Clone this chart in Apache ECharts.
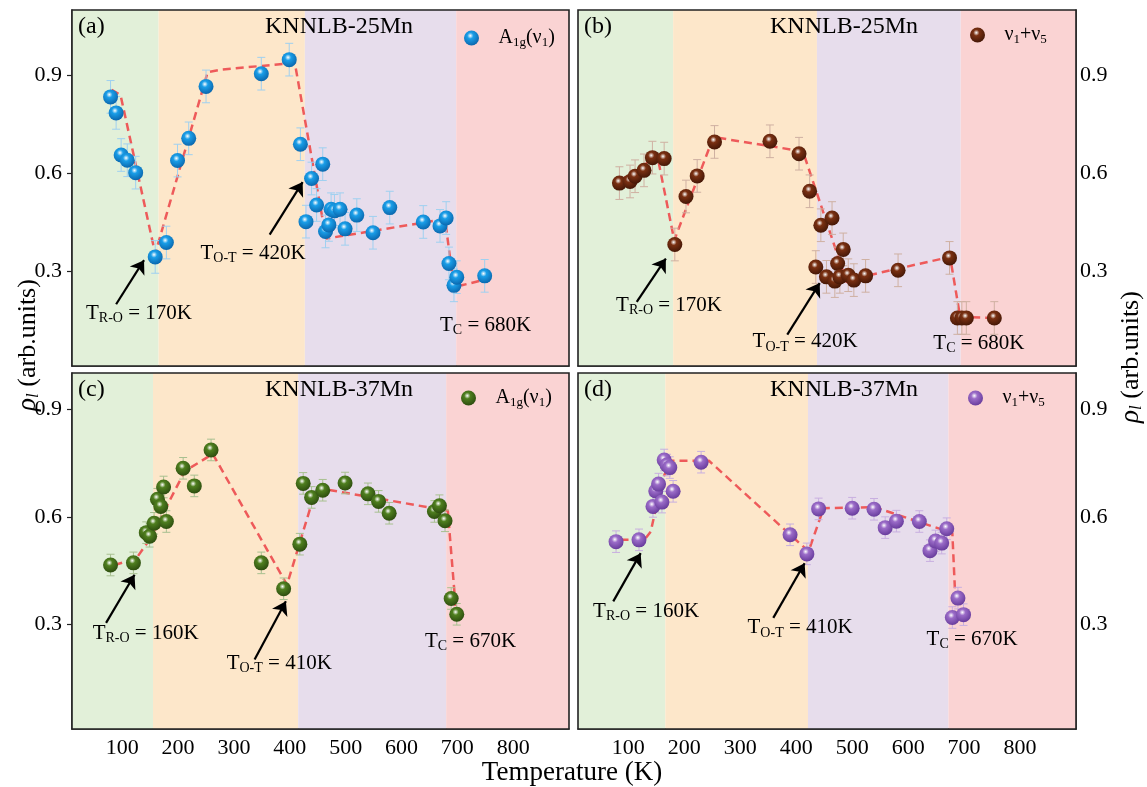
<!DOCTYPE html>
<html>
<head>
<meta charset="utf-8">
<script src="https://cdn.jsdelivr.net/npm/echarts@6.0.0/dist/echarts.min.js"></script>
<style>
html, body { margin: 0; padding: 0; background: #fff; }
#chart { width: 1147px; height: 787px; }
</style>
</head>
<body>
<div id="chart"></div>
<script>
// tick labels
var xTicks = [100, 200, 300, 400, 500, 600, 700, 800];
var yTicks = [0.3, 0.6, 0.9];

// (a) KNNLB-25Mn, A1g(v1)
var aTemp = [79, 89, 98, 109, 124, 159, 179, 199, 219, 250, 349, 399, 419, 429, 439, 448, 459, 464, 470, 474, 480, 490, 499, 520, 549, 579, 639, 669, 680, 685, 694, 699, 749];
var aRho = [0.834, 0.785, 0.656, 0.640, 0.602, 0.344, 0.388, 0.639, 0.707, 0.866, 0.905, 0.948, 0.689, 0.452, 0.584, 0.503, 0.628, 0.422, 0.442, 0.490, 0.485, 0.490, 0.430, 0.472, 0.418, 0.495, 0.451, 0.439, 0.463, 0.324, 0.257, 0.282, 0.286];
var aGuideT = [81, 97, 159, 253, 280, 409, 465, 678, 693, 708, 748];
var aGuideRho = [0.856, 0.839, 0.354, 0.91, 0.918, 0.938, 0.400, 0.46, 0.262, 0.257, 0.274];
var aBands = [10, 165, 427, 698, 900];

// (b) KNNLB-25Mn, v1+v5
var bTemp = [84, 103, 112, 128, 143, 164, 183, 203, 223, 254, 353, 405, 424, 435, 444, 454, 464, 469, 474, 478, 484, 493, 503, 524, 582, 674, 688, 696, 704, 754];
var bRho = [0.570, 0.575, 0.591, 0.609, 0.648, 0.645, 0.382, 0.529, 0.592, 0.696, 0.698, 0.660, 0.545, 0.313, 0.441, 0.283, 0.463, 0.270, 0.324, 0.283, 0.367, 0.288, 0.273, 0.286, 0.303, 0.341, 0.157, 0.157, 0.157, 0.157];
var bGuideT = [83, 152, 182, 252, 412, 490, 530, 675, 693, 755];
var bGuideRho = [0.575, 0.652, 0.395, 0.711, 0.667, 0.267, 0.288, 0.344, 0.16, 0.157];
var bBands = [10, 180, 437, 694, 900];

// (c) KNNLB-37Mn, A1g(v1)
var cTemp = [79, 120, 143, 149, 157, 163, 169, 174, 179, 209, 229, 259, 349, 389, 418, 424, 439, 459, 499, 540, 559, 578, 659, 668, 678, 689, 699];
var cRho = [0.466, 0.472, 0.556, 0.546, 0.582, 0.649, 0.629, 0.683, 0.587, 0.735, 0.686, 0.786, 0.472, 0.400, 0.524, 0.693, 0.654, 0.674, 0.694, 0.664, 0.643, 0.610, 0.615, 0.631, 0.589, 0.373, 0.329];
var cGuideT = [86, 125, 149, 212, 262, 395, 444, 470, 683, 698];
var cGuideRho = [0.466, 0.484, 0.537, 0.727, 0.775, 0.411, 0.662, 0.675, 0.617, 0.33];
var cBands = [10, 155, 415, 680, 900];

// (d) KNNLB-37Mn, v1+v5
var dTemp = [78, 119, 144, 149, 154, 160, 164, 169, 174, 180, 230, 389, 419, 440, 500, 539, 559, 579, 620, 639, 649, 660, 669, 679, 689, 699];
var dRho = [0.531, 0.536, 0.629, 0.672, 0.691, 0.641, 0.758, 0.744, 0.737, 0.671, 0.752, 0.550, 0.497, 0.622, 0.624, 0.621, 0.570, 0.588, 0.587, 0.506, 0.533, 0.527, 0.567, 0.320, 0.374, 0.328];
var dGuideT = [86, 129, 140, 160, 175, 244, 422, 449, 540, 679, 685];
var dGuideRho = [0.536, 0.537, 0.559, 0.70, 0.756, 0.756, 0.504, 0.624, 0.627, 0.555, 0.351];
var dBands = [10, 166, 421, 672, 900];

var FONT = '"Liberation Serif", "Times New Roman", serif';
var bandColors = ['#e2f0d9', '#fde7ca', '#e7ddec', '#fad3d3'];

var txtRich = {
  n: { fontFamily: FONT, fontSize: 21, color: '#000' },
  s: { fontFamily: FONT, fontSize: 14, color: '#000', padding: [10, 0, 0, 0] }
};

var panels = [
  { tag: '(a)', title: 'KNNLB-25Mn', name: 'a', T: aTemp, rho: aRho, gT: aGuideT, gR: aGuideRho, bands: aBands,
    err: 0.05, base: '#1a9ee8', dark: '#0a64aa', errColor: '#9fd0f0',
    legend: '{n|A}{s|1g}{n|(ν}{s|1}{n|)}', legendPos: [459, 23],
    grid: { left: 72, top: 10, width: 497, height: 356 }, yMax: 1.1, right: false, showX: false,
    notes: [[35, 0.17, '{n|T}{s|R-O}{n| = 170K}'], [240, 0.354, '{n|T}{s|O-T}{n| = 420K}'], [669, 0.135, '{n|T}{s|C}{n| = 680K}']],
    arrows: [[89, 0.199, 139, 0.334], [364, 0.412, 423, 0.573]] },
  { tag: '(b)', title: 'KNNLB-25Mn', name: 'b', T: bTemp, rho: bRho, gT: bGuideT, gR: bGuideRho, bands: bBands,
    err: 0.05, base: '#7a3012', dark: '#421606', errColor: '#cfb0a2',
    legend: '{n|ν}{s|1}{n|+ν}{s|5}', legendPos: [965, 20],
    grid: { left: 578, top: 10, width: 498, height: 356 }, yMax: 1.1, right: true, showX: false,
    notes: [[78, 0.196, '{n|T}{s|R-O}{n| = 170K}'], [322, 0.084, '{n|T}{s|O-T}{n| = 420K}'], [645, 0.079, '{n|T}{s|C}{n| = 680K}']],
    arrows: [[115, 0.206, 167, 0.339], [384, 0.106, 442, 0.264]] },
  { tag: '(c)', title: 'KNNLB-37Mn', name: 'c', T: cTemp, rho: cRho, gT: cGuideT, gR: cGuideRho, bands: cBands,
    err: 0.03, base: '#4f7f1f', dark: '#2b4a0e', errColor: '#a8c090',
    legend: '{n|A}{s|1g}{n|(ν}{s|1}{n|)}', legendPos: [456, 383],
    grid: { left: 72, top: 373, width: 497, height: 356 }, yMax: 1.0, right: false, showX: true,
    notes: [[47, 0.277, '{n|T}{s|R-O}{n| = 160K}'], [287, 0.193, '{n|T}{s|O-T}{n| = 410K}'], [642, 0.254, '{n|T}{s|C}{n| = 670K}']],
    arrows: [[71, 0.305, 122, 0.439], [337, 0.203, 393, 0.365]] },
  { tag: '(d)', title: 'KNNLB-37Mn', name: 'd', T: dTemp, rho: dRho, gT: dGuideT, gR: dGuideRho, bands: dBands,
    err: 0.03, base: '#9b6cc8', dark: '#65399a', errColor: '#c8afe0',
    legend: '{n|ν}{s|1}{n|+ν}{s|5}', legendPos: [963, 383],
    grid: { left: 578, top: 373, width: 498, height: 356 }, yMax: 1.0, right: true, showX: true,
    notes: [[37, 0.337, '{n|T}{s|R-O}{n| = 160K}'], [313, 0.291, '{n|T}{s|O-T}{n| = 410K}'], [633, 0.258, '{n|T}{s|C}{n| = 670K}']],
    arrows: [[73, 0.365, 122, 0.499], [359, 0.319, 415, 0.471]] }
];

var grids = [], xAxes = [], yAxes = [], series = [], legends = [], graphics = [];
var axisColor = '#222';

panels.forEach(function (p, i) {
  grids.push(p.grid);
  xAxes.push({
    gridIndex: i, type: 'value', min: 10, max: 900,
    axisLine: { show: true, lineStyle: { color: axisColor, width: 1.5 } },
    axisTick: { show: true, inside: true, length: 5, customValues: xTicks, lineStyle: { color: axisColor, width: 1.2 } },
    axisLabel: { show: p.showX, customValues: xTicks, margin: 8, fontFamily: FONT, fontSize: 22, color: '#000' },
    splitLine: { show: false }
  });
  yAxes.push({
    gridIndex: i, type: 'value', min: 0.01, max: p.yMax, position: p.right ? 'right' : 'left',
    axisLine: { show: true, lineStyle: { color: axisColor, width: 1.5 } },
    axisTick: { show: true, inside: p.right, length: 5, customValues: yTicks, lineStyle: { color: axisColor, width: 1.2 } },
    axisLabel: { customValues: yTicks, margin: p.right ? 4 : 10, fontFamily: FONT, fontSize: 22, color: '#000',
      formatter: function (v) { return v.toFixed(1); } },
    splitLine: { show: false }
  });

  // coloured phase regions
  var areas = [];
  for (var k = 0; k < 4; k++) {
    areas.push([{ xAxis: p.bands[k], yAxis: 0.01, itemStyle: { color: bandColors[k] } }, { xAxis: p.bands[k + 1], yAxis: p.yMax }]);
  }
  series.push({
    type: 'line', xAxisIndex: i, yAxisIndex: i, data: [], z: 1, silent: true,
    markArea: { silent: true, data: areas }
  });

  // dashed guide
  series.push({
    type: 'line', xAxisIndex: i, yAxisIndex: i, z: 3, silent: true, showSymbol: false,
    data: p.gT.map(function (t, j) { return [t, p.gR[j]]; }),
    lineStyle: { color: '#ee5a5a', width: 2.5, type: [8, 5] }
  });

  // error bars
  series.push({
    type: 'custom', xAxisIndex: i, yAxisIndex: i, z: 4, silent: true,
    data: p.T.map(function (t, j) { return [t, p.rho[j], p.err]; }),
    renderItem: function (params, api) {
      var t = api.value(0), v = api.value(1), e = api.value(2);
      var hi = api.coord([t, v + e]), lo = api.coord([t, v - e]);
      var st = { stroke: p.errColor, lineWidth: 1 };
      return { type: 'group', children: [
        { type: 'line', shape: { x1: hi[0], y1: hi[1], x2: lo[0], y2: lo[1] }, style: st },
        { type: 'line', shape: { x1: hi[0] - 4, y1: hi[1], x2: hi[0] + 4, y2: hi[1] }, style: st },
        { type: 'line', shape: { x1: lo[0] - 4, y1: lo[1], x2: lo[0] + 4, y2: lo[1] }, style: st }
      ] };
    }
  });

  // markers
  var grad = { type: 'radial', x: 0.42, y: 0.35, r: 0.68, colorStops: [
    { offset: 0, color: '#ffffff' }, { offset: 0.3, color: p.base }, { offset: 1, color: p.dark }] };
  series.push({
    name: p.name, type: 'scatter', xAxisIndex: i, yAxisIndex: i, z: 5,
    symbol: 'circle', symbolSize: 15,
    itemStyle: { color: grad, opacity: 1 },
    data: p.T.map(function (t, j) { return [t, p.rho[j]]; })
  });

  // annotations and arrows
  series.push({
    type: 'scatter', xAxisIndex: i, yAxisIndex: i, z: 6, silent: true,
    symbolSize: 0, itemStyle: { color: '#000', opacity: 1 },
    data: p.notes.map(function (n) {
      return { value: [n[0], n[1]], label: { show: true, position: 'right', distance: 0, color: '#000', opacity: 1, formatter: n[2], rich: txtRich } };
    }),
    markLine: {
      silent: true, symbol: ['none', 'arrow'], symbolSize: 13, animation: false,
      label: { show: false },
      lineStyle: { color: '#000', width: 2.2, type: 'solid', opacity: 1 },
      data: p.arrows.map(function (a) { return [{ coord: [a[0], a[1]] }, { coord: [a[2], a[3]] }]; })
    }
  });

  legends.push({
    data: [p.name], left: p.legendPos[0], top: p.legendPos[1], icon: 'circle',
    itemWidth: 44, itemHeight: 15, selectedMode: false,
    formatter: (function (s) { return function () { return s; }; })(p.legend),
    textStyle: { rich: {
      n: { fontFamily: FONT, fontSize: 20, color: '#000' },
      s: { fontFamily: FONT, fontSize: 13, color: '#000', padding: [10, 0, 0, 0] } } }
  });

  var g = p.grid;
  graphics.push({ type: 'rect', silent: true, z: 50, shape: { x: g.left, y: g.top, width: g.width, height: g.height },
    style: { fill: null, stroke: '#222', lineWidth: 1.6 } });
  graphics.push({ type: 'text', silent: true, z: 50, x: g.left + 6, y: g.top + 17,
    style: { text: p.tag, fontFamily: FONT, fontSize: 24, fill: '#000', verticalAlign: 'middle' } });
  graphics.push({ type: 'text', silent: true, z: 50, x: g.left + (i % 2 ? 266 : 267), y: g.top + 17,
    style: { text: p.title, fontFamily: FONT, fontSize: 24, fill: '#000', align: 'center', verticalAlign: 'middle' } });
});

var yTitleRich = {
  r: { fontFamily: FONT, fontSize: 27, fontStyle: 'italic', color: '#000' },
  l: { fontFamily: FONT, fontSize: 17, fontStyle: 'italic', color: '#000', padding: [12, 0, 0, 0] },
  n: { fontFamily: FONT, fontSize: 26, color: '#000' }
};
graphics.push({ type: 'text', silent: true, z: 50, x: 572, y: 773,
  style: { text: 'Temperature (K)', fontFamily: FONT, fontSize: 27, fill: '#000', align: 'center', verticalAlign: 'middle' } });
graphics.push({ type: 'text', silent: true, z: 50, x: 28, y: 345, rotation: Math.PI / 2,
  style: { text: '{r|ρ}{l|l}{n| (arb.units)}', rich: yTitleRich, align: 'center', verticalAlign: 'middle' } });
graphics.push({ type: 'text', silent: true, z: 50, x: 1131, y: 357, rotation: Math.PI / 2,
  style: { text: '{r|ρ}{l|l}{n| (arb.units)}', rich: yTitleRich, align: 'center', verticalAlign: 'middle' } });

var chart = echarts.init(document.getElementById('chart'));
chart.setOption({
  backgroundColor: '#ffffff',
  animation: false,
  grid: grids,
  xAxis: xAxes,
  yAxis: yAxes,
  legend: legends,
  graphic: graphics,
  series: series
});
</script>
</body>
</html>
